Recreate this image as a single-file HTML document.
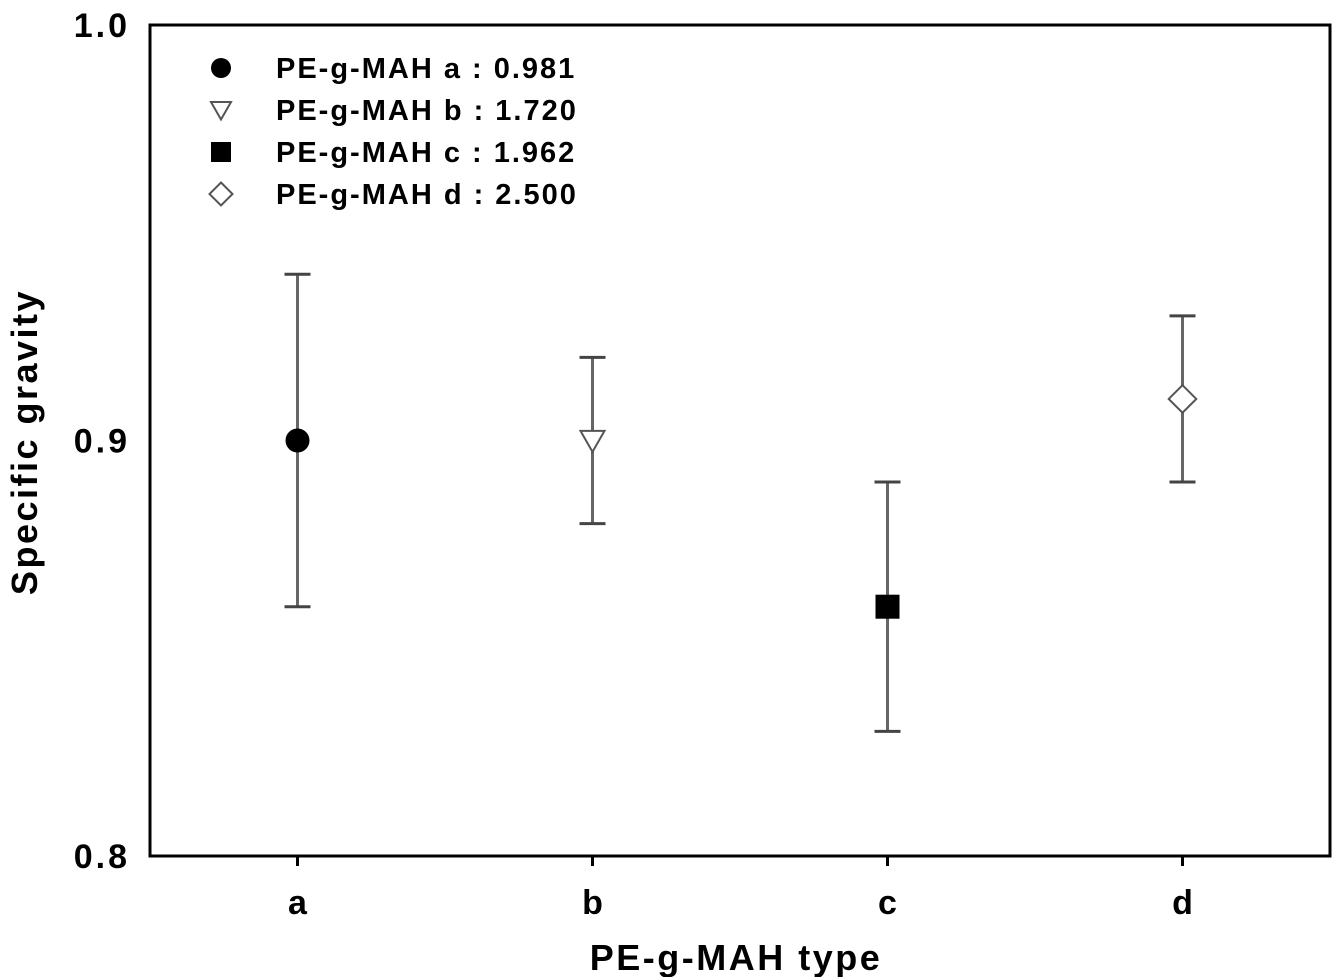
<!DOCTYPE html>
<html><head><meta charset="utf-8"><style>
html,body{margin:0;padding:0;background:#fff}
svg{display:block;font-family:"Liberation Sans",Arial,sans-serif;font-weight:bold}
</style></head><body>
<svg id="chart" width="1339" height="977" viewBox="0 0 1339 977" xmlns="http://www.w3.org/2000/svg"></svg>
<script>
const categories = ['a','b','c','d'];
const means = [0.90, 0.90, 0.86, 0.91];
const errLow = [0.86, 0.88, 0.83, 0.89];
const errHigh = [0.94, 0.92, 0.89, 0.93];
const markers = ['circle','triangle','square','diamond'];
const legendLabels = ['PE-g-MAH a : 0.981','PE-g-MAH b : 1.720','PE-g-MAH c : 1.962','PE-g-MAH d : 2.500'];
const yTicks = [0.8, 0.9, 1.0];
const yTickLabels = ['0.8','0.9','1.0'];

const NS='http://www.w3.org/2000/svg';
const svg=document.getElementById('chart');
const L=150,R=1330,T=25,B=856;
const yS=v=>B-(v-0.8)/(1.0-0.8)*(B-T);
const xS=i=>L+(i+0.5)/categories.length*(R-L);
function mk(tag,attrs,parent){const e=document.createElementNS(NS,tag);for(const k in attrs)e.setAttribute(k,attrs[k]);(parent||svg).appendChild(e);return e;}
function marker(type,x,y,s,g){
  if(type==='circle')return mk('circle',{cx:x,cy:y,r:s,fill:'#000'},g);
  if(type==='square')return mk('rect',{x:x-s,y:y-s,width:2*s,height:2*s,fill:'#000'},g);
  if(type==='triangle')return mk('polygon',{points:`${x-s},${y-s*0.8} ${x+s},${y-s*0.8} ${x},${y+s*0.95}`,fill:'#fff',stroke:'#555','stroke-width':2},g);
  return mk('polygon',{points:`${x},${y-s*1.15} ${x+s*1.15},${y} ${x},${y+s*1.15} ${x-s*1.15},${y}`,fill:'#fff',stroke:'#555','stroke-width':2},g);
}
const fr=mk('rect',{x:L,y:T,width:R-L,height:B-T,fill:'none',stroke:'#000','stroke-width':3});


yTicks.forEach((v,i)=>{
  const t=mk('text',{x:L-20,y:yS(v)+12,'text-anchor':'end','font-size':34,'letter-spacing':3,fill:'#000'});
  t.textContent=yTickLabels[i];
  
  
});
categories.forEach((c,i)=>{
  const tk=mk('line',{x1:xS(i),x2:xS(i),y1:B,y2:B+10,stroke:'#000','stroke-width':3});
  
  
  const t=mk('text',{x:xS(i),y:914,'text-anchor':'middle','font-size':34,fill:'#000'});
  t.textContent=c;
  
  
});
const xt=mk('text',{x:736,y:970,'text-anchor':'middle','font-size':36,'letter-spacing':2.5,fill:'#000'});
xt.textContent='PE-g-MAH type';


const yt=mk('text',{x:0,y:0,'text-anchor':'middle','font-size':36,'letter-spacing':2.5,fill:'#000',transform:'translate(37,442) rotate(-90)'});
yt.textContent='Specific gravity';


categories.forEach((c,i)=>{
  const g=mk('g',{});
  
  
  const x=xS(i);
  mk('line',{x1:x,x2:x,y1:yS(errHigh[i]),y2:yS(errLow[i]),stroke:'#666','stroke-width':3},g);
  mk('line',{x1:x-13,x2:x+13,y1:yS(errHigh[i]),y2:yS(errHigh[i]),stroke:'#444','stroke-width':3},g);
  mk('line',{x1:x-13,x2:x+13,y1:yS(errLow[i]),y2:yS(errLow[i]),stroke:'#444','stroke-width':3},g);
  marker(markers[i],x,yS(means[i]),12,g);
});
legendLabels.forEach((lab,i)=>{
  const g=mk('g',{});
  
  
  const y=68+i*42;
  marker(markers[i],221,y,10,g);
  const t=mk('text',{x:276,y:y+10,'font-size':29,'letter-spacing':2,fill:'#000'},g);
  t.textContent=lab;
});
</script>
</body></html>
